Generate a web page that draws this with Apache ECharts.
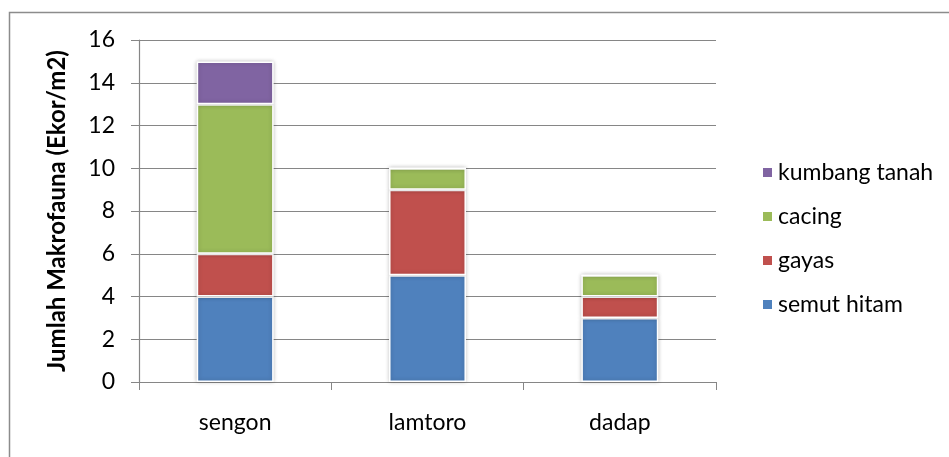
<!DOCTYPE html>
<html>
<head>
<meta charset="utf-8">
<script src="https://cdn.jsdelivr.net/npm/echarts@6/dist/echarts.min.js"></script>
<style>
  html, body { margin: 0; padding: 0; background: #fff; }
  #chart { width: 949px; height: 457px; }
</style>
</head>
<body>
<div id="chart"></div>
<script>
// Jumlah makrofauna per jenis tegakan
const categories = ['sengon', 'lamtoro', 'dadap'];
const semutHitam = [4, 5, 3];
const gayas = [2, 4, 1];
const cacing = [7, 1, 1];
const kumbangTanah = [2, 0, 0];
const yTicks = { min: 0, max: 16, interval: 2 };

const FONT = 'Lato, "Liberation Sans", sans-serif';
const AXIS_GREY = '#868686';

const chart = echarts.init(document.getElementById('chart'), null, { renderer: 'canvas' });

function barSeries(name, data, color) {
  return {
    name: name,
    type: 'bar',
    stack: 'total',
    data: data,
    barWidth: '40%',
    itemStyle: {
      color: color,
      borderColor: '#ffffff',
      borderWidth: 1.5,
      shadowColor: 'rgba(0,0,0,0.22)',
      shadowBlur: 4
    }
  };
}

chart.setOption({
  animation: false,
  backgroundColor: '#ffffff',
  textStyle: { fontFamily: FONT },
  graphic: [{
    type: 'rect',
    shape: { x: 9.5, y: 12.5, width: 1000, height: 500 },
    style: { fill: 'none', stroke: '#8c8c8c', lineWidth: 1.5 },
    silent: true,
    z: -1
  }],
  grid: { left: 139, top: 40, right: 233, bottom: 75 },
  legend: {
    orient: 'vertical',
    left: 756,
    top: 156,
    itemWidth: 11,
    itemHeight: 11,
    itemGap: 21,
    icon: 'rect',
    data: ['kumbang tanah', 'cacing', 'gayas', 'semut hitam'],
    textStyle: { fontSize: 23, color: '#000', fontFamily: FONT }
  },
  xAxis: {
    type: 'category',
    data: categories,
    boundaryGap: true,
    axisLine: { show: true, lineStyle: { color: AXIS_GREY, width: 1.2 } },
    axisTick: { show: true, length: 8, alignWithLabel: false, lineStyle: { color: AXIS_GREY } },
    axisLabel: { fontSize: 23, color: '#000', margin: 29, fontFamily: FONT }
  },
  yAxis: {
    type: 'value',
    min: yTicks.min,
    max: yTicks.max,
    interval: yTicks.interval,
    name: 'Jumlah Makrofauna (Ekor/m2)',
    nameLocation: 'middle',
    nameGap: 70,
    nameTextStyle: { fontSize: 24, fontWeight: 'bold', color: '#000', fontFamily: FONT },
    axisLine: { show: true, lineStyle: { color: AXIS_GREY, width: 1.2 } },
    axisTick: { show: true, length: 8, lineStyle: { color: AXIS_GREY } },
    axisLabel: { fontSize: 23, color: '#000', margin: 24, fontFamily: FONT },
    splitLine: { show: true, lineStyle: { color: AXIS_GREY, width: 1.2 } }
  },
  series: [
    barSeries('semut hitam', semutHitam, '#4F81BD'),
    barSeries('gayas', gayas, '#C0504D'),
    barSeries('cacing', cacing, '#9BBB59'),
    barSeries('kumbang tanah', kumbangTanah, '#8064A2')
  ]
});
</script>
</body>
</html>
